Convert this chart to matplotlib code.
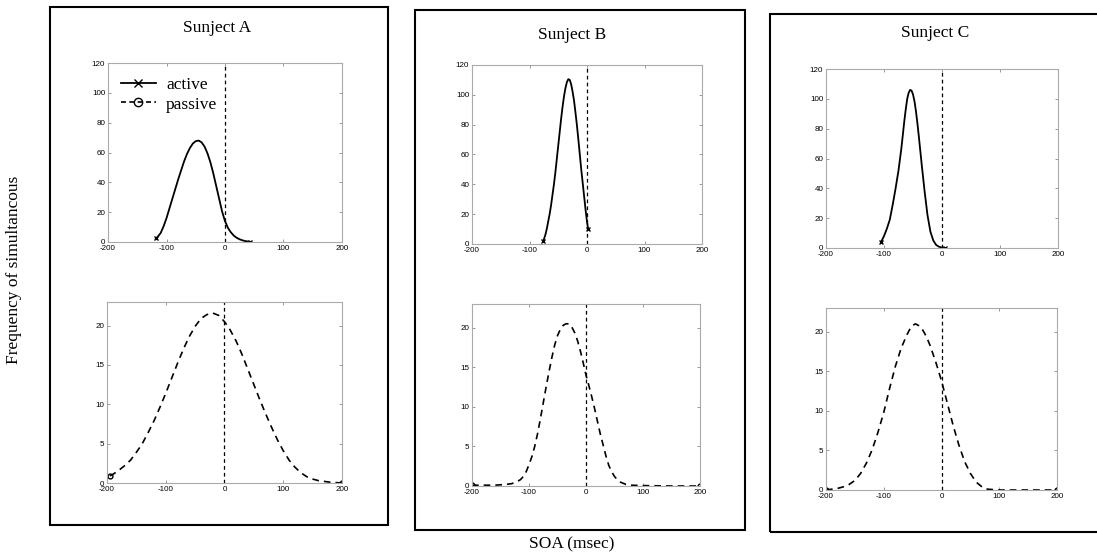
import matplotlib
matplotlib.use('Agg')
import matplotlib.pyplot as plt
from matplotlib.patches import Rectangle
from matplotlib.lines import Line2D

W, H = 1097, 556

subjects = ['Sunject A', 'Sunject B', 'Sunject C']
legend_labels = ['active', 'passive']
ylabel = 'Frequency of simultancous'
xlabel = 'SOA (msec)'

x_ticks = [-200, -100, 0, 100, 200]
x_ticklabels = ['-200', '-100', '0', '100', '200']
top_yticks = [0, 20, 40, 60, 80, 100, 120]
bot_yticks = [0, 5, 10, 15, 20]

# ---- active (top row) ----
a_act_x = [-118, -115, -110, -105, -100, -95, -90, -85, -80, -75, -70, -65, -60, -55, -50, -45,
           -40, -35, -30, -25, -20, -15, -10, -5, 0, 5, 10, 15, 20, 25, 30, 35, 40, 43]
a_act_y = [2.5, 3.5, 6, 10.5, 16, 22.5, 29, 35.5, 42, 48, 54, 59, 63, 66, 67.6, 68,
           66.8, 64, 59.5, 53.5, 46, 37.5, 29, 20.5, 14, 9.5, 6.5, 4.3, 2.8, 1.8, 1.1, 0.6, 0.3, 0.1]

b_act_x = [-76, -72.5, -70, -67.5, -65, -62.5, -60, -57.5, -55, -52.5, -50, -47.5, -45, -42.5,
           -40, -37.5, -35, -32.5, -30, -27.5, -25, -22.5, -20, -17.5, -15, -12.5, -10, -7.5,
           -5, -2.5, 0, 2]
b_act_y = [2, 6, 10, 15, 20, 26, 33, 40, 48, 57, 66, 75, 84, 92,
           99, 104.5, 108.5, 110.5, 110, 107, 102, 96, 88, 79.5, 70, 60, 50, 41,
           32, 23, 15, 10]

c_act_x = [-105, -100, -95, -90, -85, -80, -75, -70, -67.5, -65, -62.5, -60, -57.5, -55, -52.5,
           -50, -47.5, -45, -42.5, -40, -37.5, -35, -30, -25, -20, -15, -10, -5, 0, 5]
c_act_y = [4, 8, 13, 19, 29, 40, 52, 67, 76, 85, 93, 100, 104, 106, 105.5,
           103, 98.5, 92, 84, 75, 65.5, 56, 38, 22, 11, 5, 2, 0.8, 0.3, 0]

# ---- passive (bottom row) ----
a_pas_x = [-195, -190, -180, -170, -160, -150, -140, -130, -120, -110, -100, -90, -80, -70, -60,
           -50, -40, -30, -20, -10, 0, 10, 20, 30, 40, 50, 60, 70, 80, 90, 100, 110, 120,
           130, 140, 150, 160, 170, 180, 190, 200]
a_pas_y = [0.9, 1.1, 1.6, 2.2, 2.9, 3.9, 5.0, 6.4, 7.9, 9.6, 11.4, 13.3, 15.2, 17.0, 18.6,
           19.9, 20.9, 21.4, 21.6, 21.3, 20.5, 19.4, 18.0, 16.3, 14.4, 12.5, 10.6, 8.8, 7.1, 5.5, 4.1, 2.9, 2.0,
           1.3, 0.8, 0.5, 0.3, 0.2, 0.1, 0.05, 0]

b_pas_x = [-200, -180, -160, -140, -130, -120, -115, -110, -105, -100, -95, -90, -85, -80, -75,
           -70, -65, -60, -55, -50, -45, -40, -35, -30, -25, -20, -15, -10, -5, 0, 5, 10, 15,
           20, 25, 30, 35, 40, 45, 50, 55, 60, 70, 80, 100, 150, 200]
b_pas_y = [0.1, 0.1, 0.1, 0.2, 0.3, 0.6, 0.8, 1.2, 1.8, 2.7, 3.7, 5.0, 6.6, 8.5, 10.5,
           12.5, 14.4, 16.2, 17.8, 19.0, 19.8, 20.3, 20.5, 20.5, 20.1, 19.4, 18.4, 17.1, 15.6, 14.0, 12.7, 11.3, 9.8,
           8.2, 6.6, 5.2, 3.8, 2.6, 1.8, 1.2, 0.8, 0.5, 0.2, 0.1, 0.05, 0, 0]

c_pas_x = [-200, -190, -180, -170, -160, -150, -140, -130, -120, -110, -100, -90, -80, -70, -60,
           -55, -50, -45, -40, -35, -30, -25, -20, -10, 0, 10, 20, 30, 40, 50, 60, 70, 80,
           90, 100, 200]
c_pas_y = [0, 0.1, 0.2, 0.4, 0.7, 1.2, 2.1, 3.4, 5.1, 7.3, 9.8, 12.8, 15.6, 17.9, 19.6,
           20.3, 20.8, 21.0, 20.8, 20.5, 19.9, 19.2, 18.3, 16.2, 13.8, 11.0, 8.2, 5.7, 3.6, 2.1, 1.0, 0.4, 0.1,
           0.05, 0, 0]

active = [(a_act_x, a_act_y), (b_act_x, b_act_y), (c_act_x, c_act_y)]
passive = [(a_pas_x, a_pas_y), (b_pas_x, b_pas_y), (c_pas_x, c_pas_y)]

# layout in pixels (left, right, top, bottom)
top_axes_px = [(108, 342, 63, 242), (472, 702, 65, 244), (826, 1058, 69, 248)]
bot_axes_px = [(107, 342, 302, 483), (472, 700, 304, 486), (826, 1057, 308, 490)]
boxes_px = [(50, 388, 7, 525), (415, 745, 10, 530), (770, 1110, 14, 532)]
title_px = [(217, 28), (572, 35), (935, 33)]

SERIF = ['Liberation Serif', 'DejaVu Serif']
SANS = ['Liberation Sans', 'DejaVu Sans']

fig = plt.figure(figsize=(W / 100, H / 100), dpi=100)
fig.patch.set_facecolor('white')


def rect(l, r, t, b):
    return [l / W, 1 - b / H, (r - l) / W, (b - t) / H]


def style_axes(ax, yticks, ymax):
    ax.set_xlim(-200, 200)
    ax.set_ylim(0, ymax)
    ax.set_xticks(x_ticks)
    ax.set_xticklabels(x_ticklabels, fontfamily=SANS, fontsize=5.8)
    ax.set_yticks(yticks)
    ax.set_yticklabels([str(v) for v in yticks], fontfamily=SANS, fontsize=5.8)
    ax.tick_params(direction='in', length=2, width=0.6, color='#888888',
                   top=True, right=True, pad=2)
    for s in ax.spines.values():
        s.set_color('#aaaaaa')
        s.set_linewidth(0.8)
    ax.axvline(0, color='black', linestyle=(0, (3, 2.5)), linewidth=0.9)


for i in range(3):
    l, r, t, b = boxes_px[i]
    fig.add_artist(Rectangle((l / W, 1 - b / H), (r - l) / W, (b - t) / H,
                             transform=fig.transFigure, fill=False,
                             edgecolor='black', linewidth=1.5))
    tx, ty = title_px[i]
    fig.text(tx / W, 1 - ty / H, subjects[i], ha='center', va='center',
             fontfamily=SERIF, fontsize=12.5)

    axt = fig.add_axes(rect(*top_axes_px[i]))
    xs, ys = active[i]
    axt.plot(xs, ys, color='black', linewidth=1.3, marker='x', markersize=3,
             markevery=[0, len(xs) - 1])
    style_axes(axt, top_yticks, 120)

    axb = fig.add_axes(rect(*bot_axes_px[i]))
    xs, ys = passive[i]
    axb.plot(xs, ys, color='black', linewidth=1.2, linestyle=(0, (4, 3)),
             marker='o', markersize=3.5, markerfacecolor='none',
             markevery=[0, len(xs) - 1])
    style_axes(axb, bot_yticks, 23)

    if i == 0:
        handles = [Line2D([], [], color='black', linewidth=1.3, marker='x', markersize=6),
                   Line2D([], [], color='black', linewidth=1.2, linestyle=(0, (3, 2)),
                          marker='o', markersize=6, markerfacecolor='none')]
        axt.legend(handles, legend_labels, loc='upper left',
                   bbox_to_anchor=(0.055, 0.925), frameon=False,
                   prop={'family': SERIF, 'size': 12.5},
                   handlelength=2.0, handletextpad=0.6, labelspacing=0.22,
                   borderpad=0, borderaxespad=0)

fig.text(14 / W, 1 - 270 / H, ylabel, rotation=90, ha='center', va='center',
         fontfamily=SERIF, fontsize=12.5)
fig.text(572 / W, 1 - 544 / H, xlabel, ha='center', va='center',
         fontfamily=SERIF, fontsize=12.5)

fig.savefig('out.png', dpi=100, facecolor='white')
